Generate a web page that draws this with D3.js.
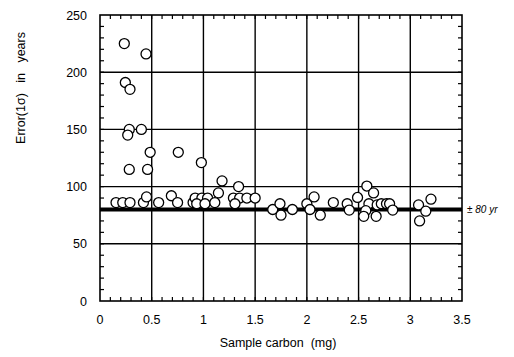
<!DOCTYPE html>
<html>
<head>
<meta charset="utf-8">
<script src="https://cdn.jsdelivr.net/npm/d3@7"></script>
<style>
  body { margin: 0; background: #fff; }
  text { font-family: "Liberation Sans", Arial, sans-serif; fill: #000; }
</style>
</head>
<body>
<svg id="chart" width="514" height="357"></svg>
<script>
// sample carbon (mg) and 1-sigma error (years)
const carbonMg = [
    0.235, 0.445, 0.245, 0.29, 0.283, 0.268, 0.40, 0.485, 0.757, 0.283, 0.46, 0.98,
    0.155, 0.22, 0.29, 0.42, 0.45, 0.567, 0.69, 0.75, 0.90,
    1.18, 1.34, 1.145, 0.92, 0.985, 1.04, 1.29, 1.35, 1.42, 1.50, 0.935, 1.015, 1.11, 1.305,
    1.67, 1.74, 1.75, 1.86, 2.0, 2.07, 2.03, 2.13, 2.256, 2.39, 2.41, 2.49, 2.58, 2.645,
    2.60, 2.57, 2.55, 2.67, 2.68, 2.72, 2.77, 2.80, 2.83, 3.08, 3.2, 3.15, 3.09
];
const errorYears = [
    225, 216, 191, 185, 150, 145, 150, 130, 130, 115, 115, 121,
    86, 86, 86, 86, 91, 86, 92, 86, 86,
    105, 100, 94.5, 90, 90, 90, 90, 90, 90, 90, 85, 85, 86, 85,
    80, 85, 75, 80, 85, 91, 80, 75, 86, 85, 79.5, 90.5, 100.5, 94.5,
    85, 79, 74, 74, 84, 85, 85, 85, 79.5, 84, 89, 78.5, 70
];
const xTicks = [0, 0.5, 1, 1.5, 2, 2.5, 3, 3.5];
const yTicks = [0, 50, 100, 150, 200, 250];
const meanError = 80;

const svg = d3.select('#chart');
const margin = {left: 100, top: 15, right: 52, bottom: 56};
const width = 514 - margin.left - margin.right;
const height = 357 - margin.top - margin.bottom;

const x = d3.scaleLinear().domain([0, 3.5]).range([0, width]);
const y = d3.scaleLinear().domain([0, 250]).range([height, 0]);

const g = svg.append('g')
    .attr('transform', `translate(${margin.left},${margin.top})`);

// grid lines
g.selectAll('.vgrid')
    .data(xTicks.filter(d => d > 0 && d < 3.5))
    .enter().append('line')
    .attr('x1', d => x(d)).attr('x2', d => x(d))
    .attr('y1', 0).attr('y2', height)
    .attr('stroke', '#000').attr('stroke-width', 1.4);
g.selectAll('.hgrid')
    .data(yTicks.filter(d => d > 0 && d < 250))
    .enter().append('line')
    .attr('x1', 0).attr('x2', width)
    .attr('y1', d => y(d)).attr('y2', d => y(d))
    .attr('stroke', '#000').attr('stroke-width', 1.4);

// minor ticks, inside on all four sides
const xMinor = d3.range(1, 35).map(i => i / 10);
const yMinor = d3.range(1, 25).map(i => i * 10);
const tickLen = 4;
g.selectAll('.xminb').data(xMinor).enter().append('line')
    .attr('x1', d => x(d)).attr('x2', d => x(d))
    .attr('y1', height).attr('y2', height - tickLen)
    .attr('stroke', '#000').attr('stroke-width', 1.2);
g.selectAll('.xmint').data(xMinor).enter().append('line')
    .attr('x1', d => x(d)).attr('x2', d => x(d))
    .attr('y1', 0).attr('y2', tickLen)
    .attr('stroke', '#000').attr('stroke-width', 1.2);
g.selectAll('.yminl').data(yMinor).enter().append('line')
    .attr('x1', 0).attr('x2', tickLen)
    .attr('y1', d => y(d)).attr('y2', d => y(d))
    .attr('stroke', '#000').attr('stroke-width', 1.2);
g.selectAll('.yminr').data(yMinor).enter().append('line')
    .attr('x1', width).attr('x2', width - tickLen)
    .attr('y1', d => y(d)).attr('y2', d => y(d))
    .attr('stroke', '#000').attr('stroke-width', 1.2);

// frame
g.append('rect')
    .attr('width', width).attr('height', height)
    .attr('fill', 'none').attr('stroke', '#000').attr('stroke-width', 1.6);

// mean error line
g.append('line')
    .attr('x1', 0).attr('x2', width)
    .attr('y1', y(meanError)).attr('y2', y(meanError))
    .attr('stroke', '#000').attr('stroke-width', 4);

// points
g.selectAll('.pt')
    .data(carbonMg.map((c, i) => ({c, e: errorYears[i]})))
    .enter().append('circle')
    .attr('cx', d => x(d.c))
    .attr('cy', d => y(d.e))
    .attr('r', 5)
    .attr('fill', '#fff')
    .attr('stroke', '#000')
    .attr('stroke-width', 1.3);

// tick labels
g.selectAll('.xlab').data(xTicks).enter().append('text')
    .attr('x', d => x(d)).attr('y', height + 23)
    .attr('text-anchor', 'middle')
    .attr('font-size', 12.5)
    .text(d => d);
g.selectAll('.ylab').data(yTicks).enter().append('text')
    .attr('x', -13).attr('y', d => y(d) + 4.5)
    .attr('text-anchor', 'end')
    .attr('font-size', 12.5)
    .text(d => d);

// axis titles
svg.append('text')
    .attr('x', 278).attr('y', 347)
    .attr('text-anchor', 'middle')
    .attr('font-size', 12.5)
    .text('Sample carbon\u00a0\u00a0(mg)');
svg.append('text')
    .attr('transform', 'translate(25,88) rotate(-90)')
    .attr('text-anchor', 'middle')
    .attr('font-size', 12.5)
    .text('Error(1σ)\u00a0\u00a0\u00a0in\u00a0\u00a0\u00a0years');

svg.append('text')
    .attr('x', margin.left + width + 5).attr('y', margin.top + y(meanError) + 4)
    .attr('font-size', 10)
    .attr('font-style', 'italic')
    .text('± 80 yr');
</script>
</body>
</html>
